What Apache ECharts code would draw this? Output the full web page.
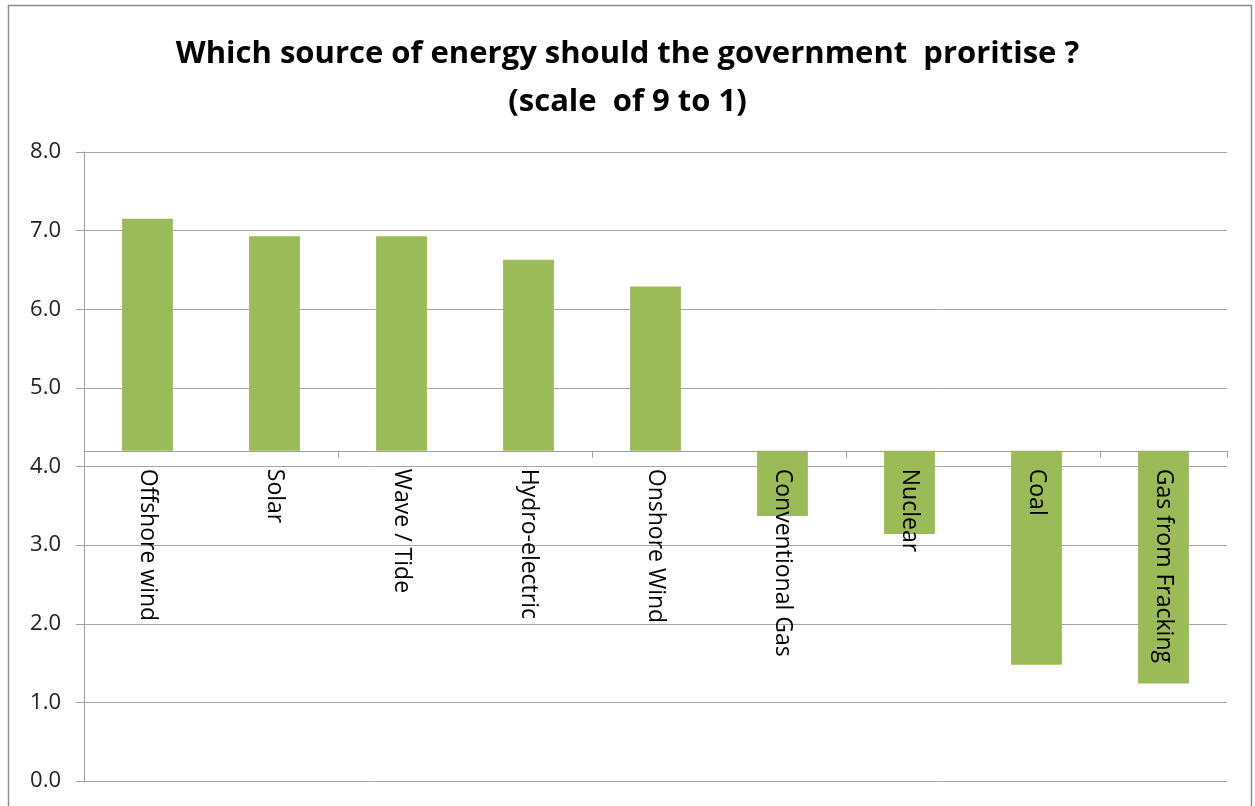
<!DOCTYPE html>
<html>
<head>
<meta charset="utf-8">
<script src="https://cdn.jsdelivr.net/npm/echarts@6/dist/echarts.min.js"></script>
<style>
html,body{margin:0;padding:0;background:#fff;}
#chart{width:1255px;height:806px;}
</style>
</head>
<body>
<div id="chart"></div>
<script>
// ---- data ----
const categories = ['Offshore wind', 'Solar', 'Wave / Tide', 'Hydro-electric', 'Onshore Wind',
  'Conventional Gas', 'Nuclear', 'Coal', 'Gas from Fracking'];
const scores = [7.15, 6.93, 6.93, 6.63, 6.29, 3.37, 3.14, 1.48, 1.24];
const axisCross = 4.2;           // value where the category axis crosses the value axis
const yMin = 0, yMax = 8, yStep = 1;
const titleLines = ['Which source of energy should the government  proritise ?', '(scale  of 9 to 1)'];

// ---- layout ----
const H = 806;
const grid = { left: 84, right: 28, top: 152, bottom: 25, outerBoundsMode: 'none', containLabel: false };
const plotH = H - grid.top - grid.bottom;
const labelAxisOffset = -plotH * (axisCross - yMin) / (yMax - yMin);

const chart = echarts.init(document.getElementById('chart'), null, { renderer: 'canvas' });
const font = '"Open Sans", "Liberation Sans", sans-serif';

chart.setOption({
  animation: false,
  backgroundColor: '#ffffff',
  title: {
    text: titleLines.join('\n'),
    left: 'center',
    top: 25,
    textStyle: { fontFamily: font, fontWeight: 'bold', fontSize: 31, lineHeight: 48, color: '#000' }
  },
  graphic: [{
    type: 'rect', shape: { x: 8.5, y: 5.5, width: 1243, height: 830 },
    style: { fill: 'none', stroke: '#8c8c8c', lineWidth: 1.5 }, silent: true
  }],
  grid: grid,
  xAxis: [{
    // axis line + ticks, crossing the value axis at axisCross
    type: 'category',
    data: categories,
    position: 'bottom',
    z: 5,
    boundaryGap: true,
    axisLine: { show: true, onZero: true, onZeroAxisIndex: 1, lineStyle: { color: '#a0a0a0', width: 1 } },
    axisTick: { show: true, length: 7, inside: false, lineStyle: { color: '#a0a0a0' } },
    axisLabel: { show: false },
    splitLine: { show: false }
  }, {
    // category labels, placed just below the crossing line
    type: 'category',
    data: categories,
    position: 'bottom',
    offset: labelAxisOffset,
    z: 5,
    boundaryGap: true,
    axisLine: { show: false, onZero: false },
    axisTick: { show: false },
    axisLabel: { rotate: -90, margin: 18, fontFamily: font, fontSize: 23, color: '#000', interval: 0 },
    splitLine: { show: false }
  }],
  yAxis: [{
    type: 'value',
    min: yMin, max: yMax, interval: yStep,
    axisLine: { show: true, lineStyle: { color: '#a0a0a0' } },
    axisTick: { show: true, length: 8, lineStyle: { color: '#a0a0a0' } },
    axisLabel: { margin: 23, fontFamily: font, fontSize: 22, color: '#222',
      formatter: v => v.toFixed(1) },
    splitLine: { show: true, lineStyle: { color: '#a6a6a6', width: 1 } }
  }, {
    // helper axis, shifted so that its zero sits at the crossing value of the main axis
    type: 'value',
    show: false,
    min: yMin - axisCross, max: yMax - axisCross,
    splitLine: { show: false }
  }],
  series: [{
    type: 'custom',
    xAxisIndex: 0,
    yAxisIndex: 0,
    data: scores.map((v, i) => [i, v]),
    encode: { x: 0, y: 1 },
    renderItem: function (params, api) {
      const idx = api.value(0), v = api.value(1);
      const top = api.coord([idx, v]);
      const base = api.coord([idx, axisCross]);
      const w = api.size([1, 0])[0] * 0.4;
      return {
        type: 'rect',
        shape: { x: top[0] - w / 2, y: Math.min(top[1], base[1]), width: w, height: Math.abs(top[1] - base[1]) },
        style: { fill: '#9BBB59' }
      };
    },
    z: 2
  }]
});
</script>
</body>
</html>
